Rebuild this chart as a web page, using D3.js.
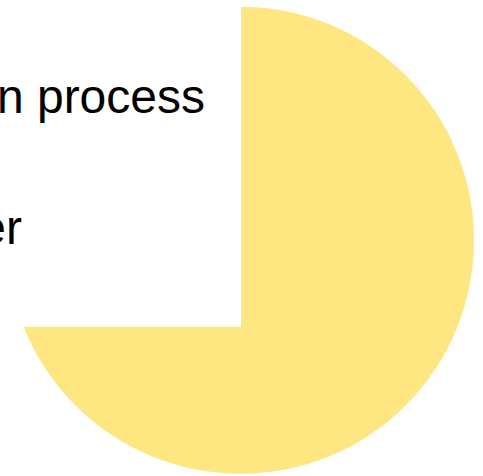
<!DOCTYPE html>
<html>
<head>
<meta charset="utf-8">
<script src="https://cdn.jsdelivr.net/npm/d3@7/dist/d3.min.js"></script>
<style>
  html, body { margin: 0; padding: 0; background: #fff; overflow: hidden; }
  svg { display: block; }
</style>
</head>
<body>
<svg id="chart" width="483" height="476"></svg>
<script>
// ---- data ----
const categories = ["In process", "Other"];
const values = [100, 0];
const colors = ["#FEE681", "#9DC3E6"];

// ---- layout ----
const W = 483, H = 476;
const cx = 240.5, cy = 240.3, radius = 233.5;
const svg = d3.select("#chart");

const pie = d3.pie().sort(null).value(d => d.value);
const arc = d3.arc().innerRadius(0).outerRadius(radius);
const data = categories.map((c, i) => ({ name: c, value: values[i], color: colors[i] }));

svg.append("g")
  .attr("transform", `translate(${cx},${cy})`)
  .selectAll("path")
  .data(pie(data))
  .join("path")
  .attr("d", arc)
  .attr("fill", d => d.data.color);

// ---- legend (white box overlapping the pie, partly outside the view) ----
const legend = svg.append("g");
legend.append("rect")
  .attr("x", -300).attr("y", -10)
  .attr("width", 541).attr("height", 336.7)
  .attr("fill", "#ffffff");

const labelEnds = [205, 22];
const labelY = [113, 244];
legend.selectAll("text")
  .data(data)
  .join("text")
  .attr("x", (d, i) => labelEnds[i])
  .attr("y", (d, i) => labelY[i])
  .attr("text-anchor", "end")
  .attr("font-family", "Liberation Sans, Arial, sans-serif")
  .attr("font-size", 48)
  .attr("fill", "#000")
  .text(d => d.name);
</script>
</body>
</html>
